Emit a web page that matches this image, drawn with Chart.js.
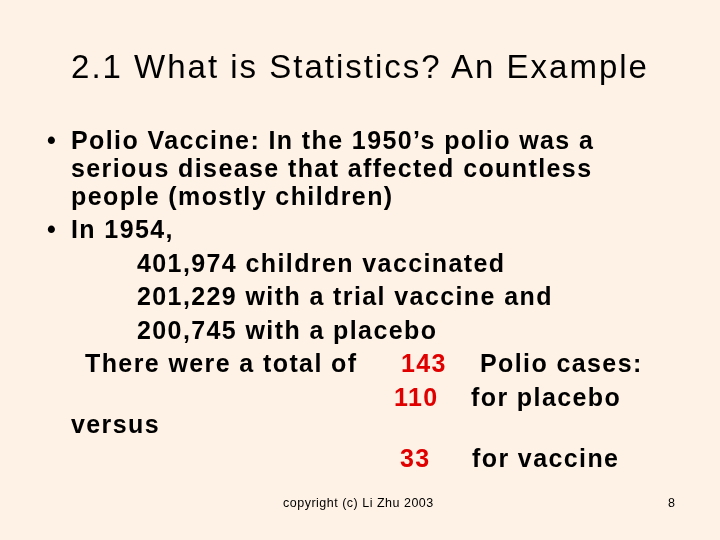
<!DOCTYPE html>
<html><head><meta charset="utf-8">
<script src="https://cdn.jsdelivr.net/npm/chart.js@4"></script>
<style>
html,body{margin:0;padding:0;}
body{width:720px;height:540px;background:#FEF2E6;position:relative;overflow:hidden;font-family:"Liberation Sans",Arial,sans-serif;}
.t{position:absolute;white-space:pre;font-weight:bold;font-size:25px;letter-spacing:1.4px;line-height:28px;color:#000;}
.r{color:#E00000;}
#title{position:absolute;top:47px;left:0;width:720px;text-align:center;font-size:33px;letter-spacing:2px;line-height:40px;}
#foot{position:absolute;top:496px;left:283px;font-size:12.5px;letter-spacing:0.5px;}
#pg{position:absolute;top:496px;left:668px;font-size:12.5px;}
#c{position:absolute;left:0;top:0;pointer-events:none;}
</style></head><body>
<canvas id="c" width="720" height="540"></canvas>
<div id="title">2.1 What is Statistics? An Example</div>
<div class="t" style="top:126px;left:47px">•</div>
<div class="t" style="top:126px;left:71px">Polio Vaccine: In the 1950’s polio was a</div>
<div class="t" style="top:154px;left:71px">serious disease that affected countless</div>
<div class="t" style="top:182px;left:71px">people (mostly children)</div>
<div class="t" style="top:215px;left:47px">•</div>
<div class="t" style="top:215px;left:71px">In 1954,</div>
<div class="t" style="top:249px;left:137px">401,974 children vaccinated</div>
<div class="t" style="top:282px;left:137px">201,229 with a trial vaccine and</div>
<div class="t" style="top:316px;left:137px">200,745 with a placebo</div>
<div class="t" style="top:349px;left:85px">There were a total of</div>
<div class="t r" style="top:349px;left:401px">143</div>
<div class="t" style="top:349px;left:480px">Polio cases:</div>
<div class="t r" style="top:383px;left:394px">110</div>
<div class="t" style="top:383px;left:471px">for placebo</div>
<div class="t" style="top:410px;left:71px">versus</div>
<div class="t r" style="top:444px;left:400px">33</div>
<div class="t" style="top:444px;left:472px">for vaccine</div>
<div id="foot">copyright (c) Li Zhu 2003</div>
<div id="pg">8</div>
<script>
const categories = ["placebo", "vaccine"];
const cases = [110, 33];
new Chart(document.getElementById('c'), {
  type: 'bar',
  data: { labels: categories, datasets: [{ data: cases, backgroundColor: 'rgba(0,0,0,0)', borderWidth: 0 }] },
  options: { responsive: false, animation: false, events: [],
    plugins: { legend: { display: false }, tooltip: { enabled: false } },
    scales: { x: { display: false }, y: { display: false } } }
});
</script>
</body></html>
